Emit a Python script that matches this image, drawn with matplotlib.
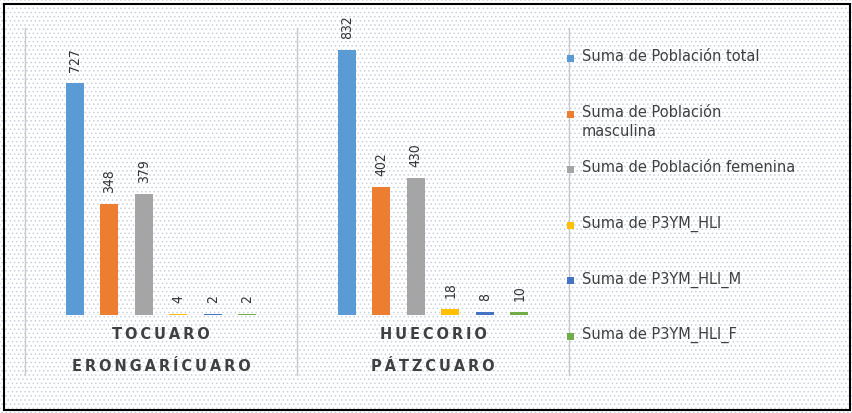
import matplotlib
matplotlib.use("Agg")

import matplotlib.pyplot as plt
from matplotlib.patches import Rectangle
import numpy as np

# datos
localidades = ["TOCUARO", "HUECORIO"]
municipios = ["ERONGARÍCUARO", "PÁTZCUARO"]
series = [
    "Suma de Población total",
    "Suma de Población\nmasculina",
    "Suma de Población femenina",
    "Suma de P3YM_HLI",
    "Suma de P3YM_HLI_M",
    "Suma de P3YM_HLI_F",
]
valores = [
    [727, 832],
    [348, 402],
    [379, 430],
    [4, 18],
    [2, 8],
    [2, 10],
]
colores = ["#5B9BD5", "#ED7D31", "#A5A5A5", "#FFC000", "#4472C4", "#70AD47"]

W, H = 853, 413
plt.rcParams["hatch.linewidth"] = 0.6
fig = plt.figure(figsize=(W / 100, H / 100), dpi=100)
fig.patch.set_facecolor("white")

# fondo punteado
bg = Rectangle((0, 0), 1, 1, transform=fig.transFigure, facecolor="white",
               edgecolor="#c8d2de", hatch="....", linewidth=0, zorder=-10)
fig.patches.append(bg)

# area del grafico (pixeles: x 25-569, y 28-315)
ax = fig.add_axes([25 / W, (H - 315) / H, 544 / W, 287 / H])
ax.set_facecolor("none")
ax.set_xlim(-0.5, 1.5)
ax.set_ylim(0, 901)
for s in ax.spines.values():
    s.set_visible(False)
ax.set_xticks([])
ax.set_yticks([])

x = np.arange(len(localidades))
paso = 0.127
ancho = 0.066
for i, (vals, c) in enumerate(zip(valores, colores)):
    pos = x + (i - 2.5) * paso
    ax.bar(pos, vals, width=ancho, color=c, zorder=3)
    for px, v in zip(pos, vals):
        ax.annotate(f"{v}", (px, v), textcoords="offset points", xytext=(0, 8),
                    ha="center", va="bottom", rotation=90, fontsize=10,
                    color="#333333", fontstretch="condensed")

# lineas del eje
linea = "#c8c8c8"
ax.axhline(0, color=linea, lw=1, zorder=2)
bajo = -(375 - 315) / 287
for xv in [-0.5, 0.5, 1.5]:
    ax.axvline(xv, ymin=bajo, ymax=1, color=linea, lw=1, clip_on=False, zorder=2)

# etiquetas de categoria
sep = "\u2009"
for xi, loc, mun in zip(x, localidades, municipios):
    ax.text(xi, -19 / 0.3185, sep.join(loc), ha="center", va="center",
            fontsize=10.5, fontweight="bold", color="#404040")
    ax.text(xi, -51 / 0.3185, sep.join(mun), ha="center", va="center",
            fontsize=10.5, fontweight="bold", color="#404040")

# leyenda
for i, (nombre, c) in enumerate(zip(series, colores)):
    yc = 58 + i * 55.6
    fig.patches.append(Rectangle((567 / W, 1 - (yc + 4) / H), 7 / W, 7 / H,
                                 transform=fig.transFigure, facecolor=c,
                                 edgecolor="none"))
    fig.text(582 / W, 1 - (yc - 9) / H, nombre, ha="left", va="top",
             fontsize=10.5, color="#404040", linespacing=1.35)

# borde exterior
fig.patches.append(Rectangle((4 / W, 3 / H), 846 / W, 406 / H,
                             transform=fig.transFigure, fill=False,
                             edgecolor="black", lw=1.5))

fig.savefig("out.png", dpi=100)
